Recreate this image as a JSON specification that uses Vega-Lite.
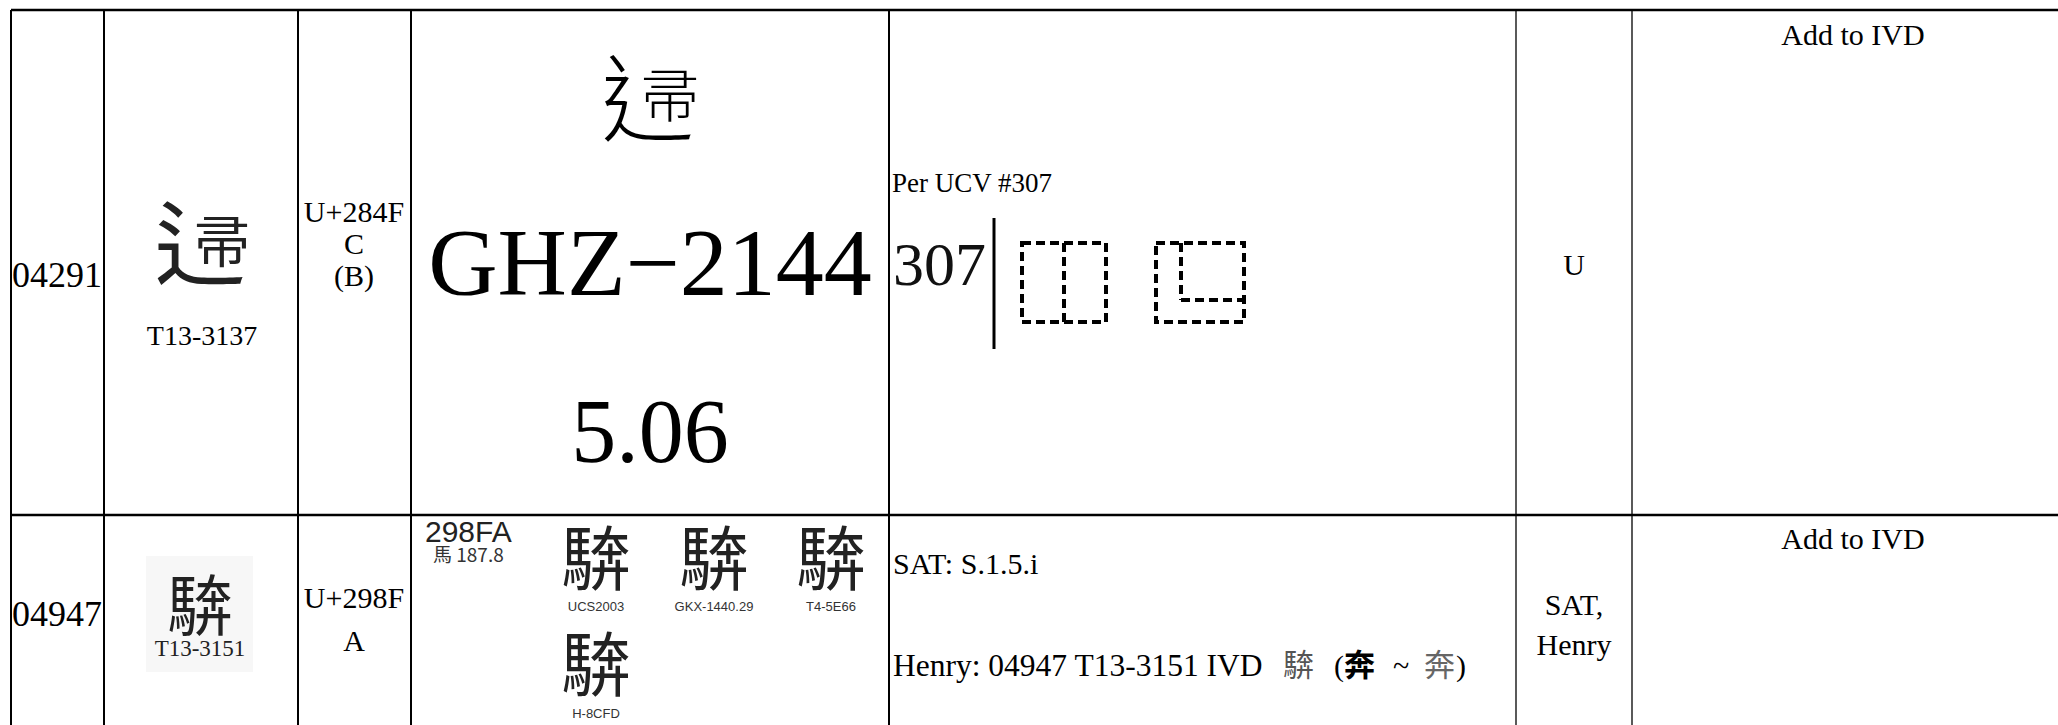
{
  "$schema": "https://vega.github.io/schema/vega-lite/v6.json",
  "width": 2058,
  "height": 725,
  "padding": 0,
  "autosize": "none",
  "background": "white",
  "config": {"view": {"stroke": null}},
  "datasets": {
    "hrules": [{"x": 11, "x2": 2058, "y": 10}, {"x": 11, "x2": 2058, "y": 515}],
    "vthick": [{"x": 11, "y": 10, "y2": 725}, {"x": 104, "y": 10, "y2": 725}, {"x": 298, "y": 10, "y2": 725}, {"x": 411, "y": 10, "y2": 725}, {"x": 889, "y": 10, "y2": 725}],
    "vthin": [{"x": 1516, "y": 10, "y2": 725}, {"x": 1632, "y": 10, "y2": 725}],
    "bg": [{"x": 146, "x2": 253, "y": 556, "y2": 672}],
    "serif30c": [
      {"x": 354, "y": 222, "t": "U+284F"}, {"x": 354, "y": 254, "t": "C"}, {"x": 354, "y": 286, "t": "(B)"},
      {"x": 1574, "y": 275, "t": "U"}, {"x": 1853, "y": 45, "t": "Add to IVD"},
      {"x": 354, "y": 608, "t": "U+298F"}, {"x": 354, "y": 651, "t": "A"},
      {"x": 1574, "y": 615, "t": "SAT,"}, {"x": 1574, "y": 655, "t": "Henry"}, {"x": 1853, "y": 549, "t": "Add to IVD"}
    ],
    "serif30l": [
      {"x": 893, "y": 574, "t": "SAT: S.1.5.i"}, {"x": 1334, "y": 676, "t": "("},
      {"x": 1393, "y": 676, "t": "~"}, {"x": 1456, "y": 676, "t": ")"}
    ],
    "perucv": [{"x": 892, "y": 192, "t": "Per UCV #307"}],
    "henry": [{"x": 893, "y": 676, "t": "Henry: 04947 T13-3151 IVD"}],
    "idx": [{"x": 57, "y": 287, "t": "04291"}, {"x": 57, "y": 626, "t": "04947"}],
    "src1": [{"x": 202, "y": 345, "t": "T13-3137"}],
    "src2": [{"x": 200, "y": 656, "t": "T13-3151"}],
    "ghz": [{"x": 650, "y": 295, "t": "GHZ\u22122144"}],
    "ver": [{"x": 650, "y": 462, "t": "5.06"}],
    "ucv": [{"x": 893, "y": 285, "t": "307"}],
    "radA": [{"x": 200, "y": 278, "t": "\u8FB6"}],
    "compA": [{"x": 222, "y": 262, "t": "\u5E1A"}],
    "radB": [{"x": 648, "y": 134, "t": "\u8FB6"}],
    "compB": [{"x": 670, "y": 117, "t": "\u5E1A"}],
    "cjkC": [{"x": 200, "y": 630, "t": "\uD866\uDCFA"}],
    "cjkD": [{"x": 596, "y": 585, "t": "\uD866\uDCFA"}, {"x": 714, "y": 585, "t": "\uD866\uDCFA"}, {"x": 831, "y": 585, "t": "\uD866\uDCFA"}, {"x": 596, "y": 691, "t": "\uD866\uDCFA"}],
    "labels": [{"x": 596, "y": 611, "t": "UCS2003"}, {"x": 714, "y": 611, "t": "GKX-1440.29"}, {"x": 831, "y": 611, "t": "T4-5E66"}, {"x": 596, "y": 718, "t": "H-8CFD"}],
    "code": [{"x": 425, "y": 542, "t": "298FA"}],
    "rad": [{"x": 433, "y": 562, "t": "\u99AC 187.8"}],
    "henryA": [{"x": 1283, "y": 676, "t": "\uD866\uDCFA"}],
    "henryB": [{"x": 1344, "y": 676, "t": "\u5954"}],
    "henryC": [{"x": 1424, "y": 676, "t": "\u5954"}],
    "bar": [{"x": 994, "y": 218, "y2": 349}],
    "boxes": [{"x": 1022, "x2": 1106, "y": 243, "y2": 322}, {"x": 1156, "x2": 1244, "y": 243, "y2": 322}],
    "dashv": [{"x": 1064, "y": 243, "y2": 322}, {"x": 1181, "y": 243, "y2": 300}],
    "dashh": [{"x": 1181, "x2": 1244, "y": 300}]
  },
  "encoding": {
    "x": {"field": "x", "type": "quantitative", "scale": {"domain": [0, 2058], "nice": false, "zero": false}, "axis": null},
    "y": {"field": "y", "type": "quantitative", "scale": {"domain": [0, 725], "nice": false, "zero": false, "reverse": true}, "axis": null}
  },
  "layer": [
    {"data": {"name": "bg"}, "mark": {"type": "rect", "fill": "#f7f7f7"}, "encoding": {"x2": {"field": "x2"}, "y2": {"field": "y2"}}},
    {"data": {"name": "hrules"}, "mark": {"type": "rule", "color": "black", "strokeWidth": 2.5}, "encoding": {"x2": {"field": "x2"}}},
    {"data": {"name": "vthick"}, "mark": {"type": "rule", "color": "black", "strokeWidth": 2}, "encoding": {"y2": {"field": "y2"}}},
    {"data": {"name": "vthin"}, "mark": {"type": "rule", "color": "black", "strokeWidth": 1.3}, "encoding": {"y2": {"field": "y2"}}},
    {"data": {"name": "bar"}, "mark": {"type": "rule", "color": "black", "strokeWidth": 3}, "encoding": {"y2": {"field": "y2"}}},
    {"data": {"name": "boxes"}, "mark": {"type": "rect", "fill": null, "fillOpacity": 0, "stroke": "black", "strokeWidth": 4, "strokeDash": [9, 5]}, "encoding": {"x2": {"field": "x2"}, "y2": {"field": "y2"}}},
    {"data": {"name": "dashv"}, "mark": {"type": "rule", "color": "black", "strokeWidth": 4, "strokeDash": [9, 5]}, "encoding": {"y2": {"field": "y2"}}},
    {"data": {"name": "dashh"}, "mark": {"type": "rule", "color": "black", "strokeWidth": 4, "strokeDash": [9, 5]}, "encoding": {"x2": {"field": "x2"}}},
    {"data": {"name": "serif30c"}, "mark": {"type": "text", "font": "Liberation Serif", "fontSize": 30, "align": "center", "baseline": "alphabetic", "color": "black"}, "encoding": {"text": {"field": "t"}}},
    {"data": {"name": "serif30l"}, "mark": {"type": "text", "font": "Liberation Serif", "fontSize": 30, "align": "left", "baseline": "alphabetic", "color": "black"}, "encoding": {"text": {"field": "t"}}},
    {"data": {"name": "perucv"}, "mark": {"type": "text", "font": "Liberation Serif", "fontSize": 27, "align": "left", "baseline": "alphabetic", "color": "black"}, "encoding": {"text": {"field": "t"}}},
    {"data": {"name": "henry"}, "mark": {"type": "text", "font": "Liberation Serif", "fontSize": 31.5, "align": "left", "baseline": "alphabetic", "color": "black"}, "encoding": {"text": {"field": "t"}}},
    {"data": {"name": "idx"}, "mark": {"type": "text", "font": "Liberation Serif", "fontSize": 36, "align": "center", "baseline": "alphabetic", "color": "black"}, "encoding": {"text": {"field": "t"}}},
    {"data": {"name": "src1"}, "mark": {"type": "text", "font": "Liberation Serif", "fontSize": 28, "align": "center", "baseline": "alphabetic", "color": "black"}, "encoding": {"text": {"field": "t"}}},
    {"data": {"name": "src2"}, "mark": {"type": "text", "font": "Liberation Serif", "fontSize": 23, "align": "center", "baseline": "alphabetic", "color": "#222"}, "encoding": {"text": {"field": "t"}}},
    {"data": {"name": "ghz"}, "mark": {"type": "text", "font": "Liberation Serif", "fontSize": 96, "align": "center", "baseline": "alphabetic", "color": "black"}, "encoding": {"text": {"field": "t"}}},
    {"data": {"name": "ver"}, "mark": {"type": "text", "font": "Liberation Serif", "fontSize": 90, "align": "center", "baseline": "alphabetic", "color": "black"}, "encoding": {"text": {"field": "t"}}},
    {"data": {"name": "ucv"}, "mark": {"type": "text", "font": "Liberation Serif", "fontSize": 62, "align": "left", "baseline": "alphabetic", "color": "#111"}, "encoding": {"text": {"field": "t"}}},
    {"data": {"name": "radA"}, "mark": {"type": "text", "font": "Noto Sans CJK JP", "fontSize": 92, "fontWeight": 400, "align": "center", "baseline": "alphabetic", "color": "#222"}, "encoding": {"text": {"field": "t"}}},
    {"data": {"name": "compA"}, "mark": {"type": "text", "font": "Noto Sans CJK JP", "fontSize": 56, "fontWeight": 400, "align": "center", "baseline": "alphabetic", "color": "#222"}, "encoding": {"text": {"field": "t"}}},
    {"data": {"name": "radB"}, "mark": {"type": "text", "font": "Noto Sans CJK TC", "fontSize": 94, "fontWeight": 300, "align": "center", "baseline": "alphabetic", "color": "black"}, "encoding": {"text": {"field": "t"}}},
    {"data": {"name": "compB"}, "mark": {"type": "text", "font": "Noto Sans CJK TC", "fontSize": 58, "fontWeight": 300, "align": "center", "baseline": "alphabetic", "color": "black"}, "encoding": {"text": {"field": "t"}}},
    {"data": {"name": "cjkC"}, "mark": {"type": "text", "font": "Noto Sans CJK TC", "fontSize": 66, "align": "center", "baseline": "alphabetic", "color": "#222"}, "encoding": {"text": {"field": "t"}}},
    {"data": {"name": "cjkD"}, "mark": {"type": "text", "font": "Noto Sans CJK TC", "fontSize": 70, "align": "center", "baseline": "alphabetic", "color": "#222"}, "encoding": {"text": {"field": "t"}}},
    {"data": {"name": "labels"}, "mark": {"type": "text", "font": "Liberation Sans Narrow, Liberation Sans", "fontSize": 13, "align": "center", "baseline": "alphabetic", "color": "#333"}, "encoding": {"text": {"field": "t"}}},
    {"data": {"name": "code"}, "mark": {"type": "text", "font": "Liberation Sans", "fontSize": 30, "align": "left", "baseline": "alphabetic", "color": "#222"}, "encoding": {"text": {"field": "t"}}},
    {"data": {"name": "rad"}, "mark": {"type": "text", "font": "Noto Sans CJK TC", "fontSize": 19, "align": "left", "baseline": "alphabetic", "color": "#333"}, "encoding": {"text": {"field": "t"}}},
    {"data": {"name": "henryA"}, "mark": {"type": "text", "font": "Noto Sans CJK TC", "fontSize": 31, "align": "left", "baseline": "alphabetic", "color": "#555"}, "encoding": {"text": {"field": "t"}}},
    {"data": {"name": "henryB"}, "mark": {"type": "text", "font": "Noto Sans CJK TC", "fontSize": 31, "fontWeight": "bold", "align": "left", "baseline": "alphabetic", "color": "black"}, "encoding": {"text": {"field": "t"}}},
    {"data": {"name": "henryC"}, "mark": {"type": "text", "font": "Noto Sans CJK JP", "fontSize": 31, "align": "left", "baseline": "alphabetic", "color": "#666"}, "encoding": {"text": {"field": "t"}}}
  ]
}
